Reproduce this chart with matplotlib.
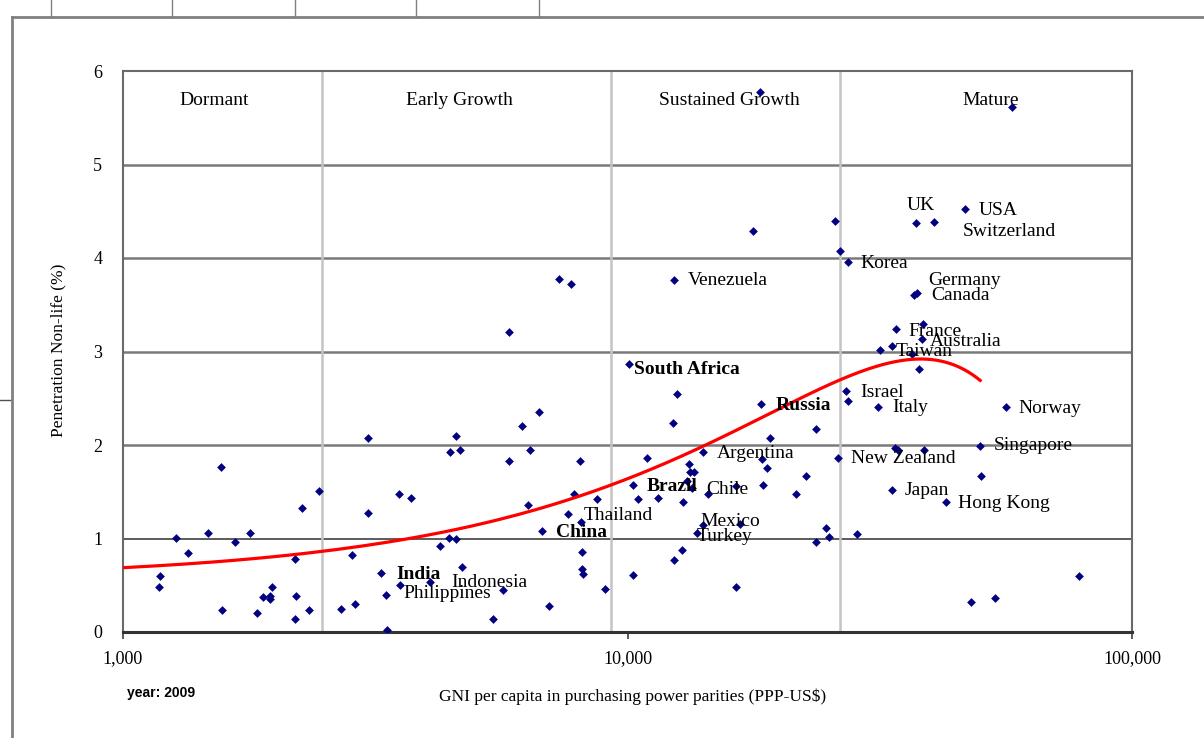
import numpy as np
import matplotlib
matplotlib.use("Agg")
import matplotlib.pyplot as plt
from matplotlib.lines import Line2D

plt.rcParams['font.family'] = ['Liberation Serif', 'DejaVu Serif']

# named countries: GNI per capita (PPP-US$) and non-life penetration (%)
names = ['India', 'Philippines', 'Indonesia', 'China', 'Thailand', 'Brazil',
         'South Africa', 'Venezuela', 'Turkey', 'Mexico', 'Argentina', 'Chile',
         'Russia', 'New Zealand', 'Israel', 'Korea', 'Italy', 'Taiwan', 'Japan',
         'France', 'Canada', 'Germany', 'UK', 'Australia', 'Switzerland',
         'Hong Kong', 'USA', 'Singapore', 'Norway']
name_gni = [3251, 3326, 4055, 6759, 7632, 10240, 10050, 12380, 13710, 14090,
            14130, 14440, 18420, 26080, 27110, 27340, 31350, 31660, 33370,
            34060, 36980, 37530, 37360, 38300, 40560, 42720, 46730, 49970, 56280]
name_pen = [0.63, 0.40, 0.54, 1.08, 1.26, 1.57, 2.87, 3.77, 1.06, 1.14, 1.92,
            1.48, 2.44, 1.86, 2.58, 3.96, 2.41, 3.02, 1.52, 3.24, 3.60, 3.63,
            4.37, 3.13, 4.38, 1.39, 4.52, 1.99, 2.41]
bold_names = ['India', 'China', 'Brazil', 'South Africa', 'Russia']

# all remaining countries
other_gni = [1176, 1186, 1276, 1346, 1476, 1564, 1573, 1667, 1783, 1846, 1897,
             1953, 1956, 1977, 2195, 2202, 2193, 2267, 2334, 2443, 2701, 2840,
             2887, 3063, 3055, 3337, 3520, 3536, 3729, 4256, 4422, 4443, 4565,
             4578, 4662, 4698, 5413, 5674, 5824, 5824, 6187, 6350, 6408, 6692,
             6988, 7314, 7727, 7816, 8033, 8088, 8125, 8114, 8152, 8719, 9031,
             10240, 10500, 10940, 11510, 12280, 12385, 12520, 12850, 12900,
             13100, 13240, 13300, 13560, 13410, 16410, 16430, 16710, 17710,
             18310, 18480, 18590, 18880, 19180, 21580, 22620, 23640, 23640,
             24750, 25120, 25820, 26320, 27360, 28470, 33370, 33940, 34420,
             36590, 37830, 38580, 38620, 47900, 50130, 53580, 57750, 78520]
other_pen = [0.48, 0.60, 1.01, 0.84, 1.06, 1.76, 0.23, 0.96, 1.06, 0.20, 0.37,
             0.39, 0.35, 0.48, 0.78, 0.385, 0.14, 1.33, 0.23, 1.51, 0.25, 0.82,
             0.30, 2.08, 1.27, 0.02, 1.48, 0.50, 1.43, 0.92, 1.005, 1.92, 2.10,
             0.99, 1.95, 0.70, 0.14, 0.45, 3.21, 1.83, 2.20, 1.36, 1.95, 2.35,
             0.28, 3.78, 3.72, 1.48, 1.83, 1.18, 0.86, 0.67, 0.62, 1.42, 0.46,
             0.61, 1.42, 1.86, 1.43, 2.24, 0.77, 2.55, 0.88, 1.39,
             1.62, 1.80, 1.71, 1.71, 1.54, 1.56, 0.48, 1.16, 4.29,
             5.78, 1.85, 1.57, 1.75, 2.07, 1.48, 1.67, 2.17, 0.96,
             1.11, 1.02, 4.40, 4.07, 2.47, 1.05, 3.06, 1.97, 1.95,
             2.97, 2.81, 3.29, 1.95, 0.32, 1.67, 0.36, 5.62, 0.60]

# polynomial trendline (GNI in thousands), highest power first
trend_coef = [-0.00162, 0.1235, 0.566]
trend_range = [1.0, 50.0]

stages = ['Dormant', 'Early Growth', 'Sustained Growth', 'Mature']
stage_edges = [2480, 9260, 26400]
stage_label_x = [1515, 4634, 15900, 52540]

# where each country name sits relative to its marker (pixels)
label_offset = {
    'India': (15, -1), 'Philippines': (17, 1), 'Indonesia': (22, -1),
    'China': (14, -1), 'Thailand': (15, -1), 'Brazil': (14, -1),
    'South Africa': (5, -6), 'Venezuela': (14, -1), 'Turkey': (0, -4),
    'Mexico': (-2, 3.5), 'Argentina': (14, -1), 'Chile': (-2, 4),
    'Russia': (14, -2), 'New Zealand': (13, -0.5), 'Israel': (14, -2),
    'Korea': (13, -1.5), 'Italy': (14, -1), 'Taiwan': (16, -2),
    'Japan': (13, -1), 'France': (12, -2), 'Canada': (17, 0),
    'Germany': (11, 12), 'UK': (-10, 18), 'Australia': (8, -2),
    'Switzerland': (28, -9), 'Hong Kong': (12, -1), 'USA': (13, -1),
    'Singapore': (14, 0), 'Norway': (12, -1.5),
}

W, H = 1204, 738
fig = plt.figure(figsize=(W / 100, H / 100), dpi=100)
fig.patch.set_facecolor('white')
ax = fig.add_axes([123 / W, 1 - 632 / H, (1132 - 123) / W, (632 - 71) / H])

ax.set_xscale('log')
ax.set_xlim(1000, 100000)
ax.set_ylim(0, 6)

# gridlines and stage boundaries
for y in range(1, 6):
    ax.axhline(y, color='#404040' if y == 1 else '#7a7a7a',
               lw=1.2 if y == 1 else 1.8, zorder=1)
for xe in stage_edges:
    ax.axvline(xe, color='#c4c4c4', lw=1.8, zorder=1)

for s, sx in zip(stages, stage_label_x):
    ax.text(sx, 5.68, s, ha='center', va='center', fontsize=14)

ax.scatter(other_gni + name_gni, other_pen + name_pen, marker='D', s=20,
           color='#000080', linewidths=0, zorder=3)

xs = np.linspace(trend_range[0], trend_range[1], 300)
ax.plot(xs * 1000, np.polyval(trend_coef, xs), color='#ff0000', lw=2.3,
        zorder=4)

for n, g, p in zip(names, name_gni, name_pen):
    dx, dy = label_offset[n]
    ax.annotate(n, (g, p), xytext=(dx, dy), textcoords='offset pixels',
                ha='left', va='center', fontsize=14,
                fontweight='bold' if n in bold_names else 'normal', zorder=5)

ax.set_xticks([1000, 10000, 100000])
ax.set_xticklabels(['1,000', '10,000', '100,000'])
ax.xaxis.set_minor_locator(matplotlib.ticker.NullLocator())
ax.set_yticks(range(0, 7))
ax.tick_params(axis='x', direction='out', length=5, width=1.2,
               color='#404040', pad=8, labelsize=13)
ax.tick_params(axis='y', length=0, pad=15, labelsize=13)

for side in ['left', 'top', 'right']:
    ax.spines[side].set_color('#6a6a6a')
    ax.spines[side].set_linewidth(1.5)
ax.spines['bottom'].set_color('#333333')
ax.spines['bottom'].set_linewidth(2.2)

fig.text(58 / W, 1 - 350 / H, 'Penetration Non-life (%)', rotation=90,
         ha='center', va='center', fontsize=12.5)
fig.text(633 / W, 1 - 697 / H,
         'GNI per capita in purchasing power parities (PPP-US$)',
         ha='center', va='center', fontsize=12.5)
fig.text(127 / W, 1 - 693 / H, 'year: 2009', ha='left', va='center',
         fontsize=10, fontweight='bold',
         family=['Liberation Sans Narrow', 'Liberation Sans', 'DejaVu Sans'])

# surrounding sheet frame
gray = '#808080'
fig.add_artist(Line2D([11.5 / W, 11.5 / W], [0, 1 - 17 / H],
                      transform=fig.transFigure, color=gray, lw=2))
fig.add_artist(Line2D([11.5 / W, 1], [1 - 17 / H, 1 - 17 / H],
                      transform=fig.transFigure, color=gray, lw=2))
for tx in [51, 172, 295, 416, 539]:
    fig.add_artist(Line2D([tx / W, tx / W], [1 - 16 / H, 1],
                          transform=fig.transFigure, color=gray, lw=1))
fig.add_artist(Line2D([0, 10 / W], [1 - 400 / H, 1 - 400 / H],
                      transform=fig.transFigure, color='#505050', lw=1))

fig.savefig('out.png', dpi=100)
